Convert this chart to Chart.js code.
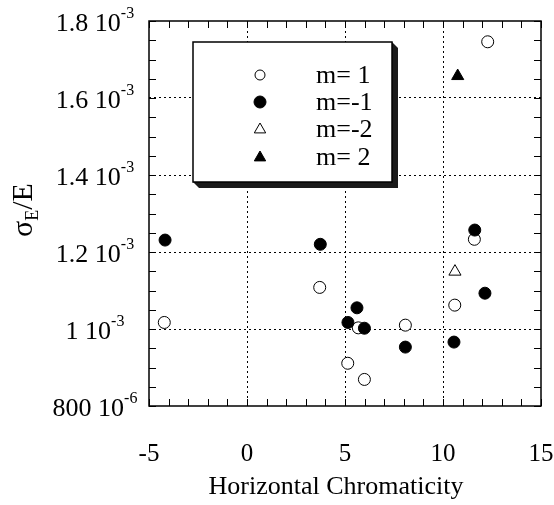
<!DOCTYPE html>
<html>
<head>
<meta charset="utf-8">
<script src="https://cdn.jsdelivr.net/npm/chart.js@4/dist/chart.umd.min.js"></script>
<style>
  html, body { margin: 0; padding: 0; background: #fff; }
  canvas { display: block; }
</style>
</head>
<body>
<canvas id="chart" width="554" height="505"></canvas>
<script>
// data
const m1X = [12.28, 11.6, 3.71, -4.22, 10.6, 8.08, 5.68, 5.14, 5.99];
const m1Y = [1.746e-3, 1.233e-3, 1.108e-3, 1.017e-3, 1.062e-3, 1.010e-3, 1.003e-3, 0.911e-3, 0.869e-3];
const mm1X = [-4.18, 3.74, 11.62, 12.14, 5.61, 5.15, 5.99, 8.08, 10.56];
const mm1Y = [1.231e-3, 1.220e-3, 1.257e-3, 1.093e-3, 1.055e-3, 1.017e-3, 1.002e-3, 0.953e-3, 0.966e-3];
const mm2X = [10.61];
const mm2Y = [1.149e-3];
const m2X = [10.75];
const m2Y = [1.657e-3];

const seriesNames = ['m= 1', 'm=-1', 'm=-2', 'm= 2'];
const yTickMain = ['800 10', '1 10', '1.2 10', '1.4 10', '1.6 10', '1.8 10'];
const yTickExp = ['-6', '-3', '-3', '-3', '-3', '-3'];
const yTickVals = [0.8e-3, 1.0e-3, 1.2e-3, 1.4e-3, 1.6e-3, 1.8e-3];
const xTitle = 'Horizontal Chromaticity';

const serif = '"Liberation Serif", "DejaVu Serif", serif';

function pts(xs, ys) {
  return xs.map((x, i) => ({ x: x, y: ys[i] }));
}

const isMajorX = v => Math.abs(v % 5) < 1e-9;
const isMajorY = v => Math.round(v * 20000) % 4 === 0;

const framePlugin = {
  id: 'frame',
  afterDraw(chart) {
    const ctx = chart.ctx;
    const a = chart.chartArea;
    const xs = chart.scales.x, ys = chart.scales.y;
    ctx.save();
    ctx.strokeStyle = '#000';
    ctx.lineWidth = 1.5;
    ctx.strokeRect(a.left, a.top, a.right - a.left, a.bottom - a.top);

    // inward ticks on all four sides
    ctx.lineWidth = 1;
    const tl = 7;
    ctx.beginPath();
    xs.ticks.forEach(t => {
      const px = Math.round(xs.getPixelForValue(t.value)) + 0.5;
      ctx.moveTo(px, a.bottom); ctx.lineTo(px, a.bottom - tl);
      ctx.moveTo(px, a.top); ctx.lineTo(px, a.top + tl);
    });
    ys.ticks.forEach(t => {
      const py = Math.round(ys.getPixelForValue(t.value)) + 0.5;
      ctx.moveTo(a.left, py); ctx.lineTo(a.left + tl, py);
      ctx.moveTo(a.right, py); ctx.lineTo(a.right - tl, py);
    });
    ctx.stroke();

    // y tick labels with superscript, centred on one column
    ctx.fillStyle = '#000';
    ctx.textBaseline = 'alphabetic';
    ctx.textAlign = 'left';
    yTickVals.forEach((v, i) => {
      const py = ys.getPixelForValue(v);
      ctx.font = '26px ' + serif;
      const mw = ctx.measureText(yTickMain[i]).width;
      ctx.font = '16px ' + serif;
      const ew = ctx.measureText(yTickExp[i]).width;
      const left = 95 - (mw + ew) / 2;
      ctx.fillText(yTickExp[i], left + mw, py - 3);
      ctx.font = '26px ' + serif;
      ctx.fillText(yTickMain[i], left, py + 10);
    });

    // x axis title
    ctx.font = '26px ' + serif;
    ctx.textAlign = 'center';
    ctx.fillText(xTitle, 336, 494);

    // y axis title sigma_E / E
    ctx.translate(32, 210);
    ctx.rotate(-Math.PI / 2);
    ctx.textAlign = 'left';
    ctx.font = '30px ' + serif;
    const sw = ctx.measureText('σ').width;
    ctx.font = '18px ' + serif;
    const ew2 = ctx.measureText('E').width;
    ctx.font = '30px ' + serif;
    const rw = ctx.measureText('/E').width;
    const x0 = -(sw + ew2 + rw) / 2;
    ctx.fillText('σ', x0, 0);
    ctx.font = '18px ' + serif;
    ctx.fillText('E', x0 + sw, 6);
    ctx.font = '30px ' + serif;
    ctx.fillText('/E', x0 + sw + ew2, 0);
    ctx.restore();

    // legend box with extruded shadow
    const bx = 193, by = 42, bw = 199, bh = 140, sd = 6;
    ctx.save();
    ctx.fillStyle = '#1a1a1a';
    ctx.beginPath();
    ctx.moveTo(bx + bw, by);
    ctx.lineTo(bx + bw + sd, by + sd);
    ctx.lineTo(bx + bw + sd, by + bh + sd);
    ctx.lineTo(bx + sd, by + bh + sd);
    ctx.lineTo(bx, by + bh);
    ctx.closePath();
    ctx.fill();
    ctx.fillStyle = '#fff';
    ctx.fillRect(bx, by, bw, bh);
    ctx.strokeStyle = '#000';
    ctx.lineWidth = 1.5;
    ctx.strokeRect(bx, by, bw, bh);
    const rows = [75, 102, 129, 157];
    chart.data.datasets.forEach((ds, i) => {
      const cy = rows[i], cx = 260;
      ctx.fillStyle = ds.backgroundColor;
      ctx.strokeStyle = '#000';
      ctx.lineWidth = 1;
      ctx.beginPath();
      if (ds.pointStyle === 'triangle') {
        const r = 6;
        ctx.moveTo(cx, cy - r);
        ctx.lineTo(cx + r * 0.95, cy + r * 0.65);
        ctx.lineTo(cx - r * 0.95, cy + r * 0.65);
        ctx.closePath();
      } else {
        ctx.arc(cx, cy, ds.backgroundColor === '#fff' ? 5 : 6, 0, Math.PI * 2);
      }
      ctx.fill();
      ctx.stroke();
      ctx.fillStyle = '#000';
      ctx.font = '26px ' + serif;
      ctx.textAlign = 'left';
      ctx.textBaseline = 'middle';
      ctx.fillText(seriesNames[i], 316, cy + 1);
    });
    ctx.restore();
  }
};

new Chart(document.getElementById('chart'), {
  type: 'scatter',
  data: {
    datasets: [
      { label: seriesNames[0], data: pts(m1X, m1Y), pointStyle: 'circle', pointRadius: 6,
        backgroundColor: '#fff', borderColor: '#000', borderWidth: 1, order: 1 },
      { label: seriesNames[1], data: pts(mm1X, mm1Y), pointStyle: 'circle', pointRadius: 6,
        backgroundColor: '#000', borderColor: '#000', borderWidth: 1, order: 0 },
      { label: seriesNames[2], data: pts(mm2X, mm2Y), pointStyle: 'triangle', pointRadius: 7,
        backgroundColor: '#fff', borderColor: '#000', borderWidth: 1, order: 1 },
      { label: seriesNames[3], data: pts(m2X, m2Y), pointStyle: 'triangle', pointRadius: 7,
        backgroundColor: '#000', borderColor: '#000', borderWidth: 1, order: 1 }
    ]
  },
  options: {
    responsive: false,
    animation: false,
    devicePixelRatio: 1,
    layout: { padding: { top: 21, right: 13, left: 0, bottom: 0 } },
    plugins: { legend: { display: false }, tooltip: { enabled: false } },
    scales: {
      x: {
        min: -5, max: 15,
        afterFit: s => { s.height = 99; s.paddingLeft = 0; s.paddingRight = 0; },
        ticks: {
          stepSize: 1, autoSkip: false, maxRotation: 0, padding: 33,
          color: '#000', font: { family: serif, size: 25 },
          callback: v => isMajorX(v) ? String(v) : ''
        },
        grid: {
          drawTicks: false,
          color: c => (c.tick && isMajorX(c.tick.value) && c.tick.value > -5 && c.tick.value < 15) ? '#000' : 'rgba(0,0,0,0)',
          lineWidth: 1
        },
        border: { display: false, dash: [2, 3] }
      },
      y: {
        min: 0.8e-3, max: 1.8e-3,
        afterFit: s => { s.width = 149; s.paddingTop = 0; s.paddingBottom = 0; },
        ticks: { stepSize: 0.05e-3, autoSkip: false, display: true, callback: () => '' },
        grid: {
          drawTicks: false,
          color: c => (c.tick && isMajorY(c.tick.value) && c.tick.value > 0.81e-3 && c.tick.value < 1.79e-3) ? '#000' : 'rgba(0,0,0,0)',
          lineWidth: 1
        },
        border: { display: false, dash: [2, 3] }
      }
    }
  },
  plugins: [framePlugin]
});
</script>
</body>
</html>
